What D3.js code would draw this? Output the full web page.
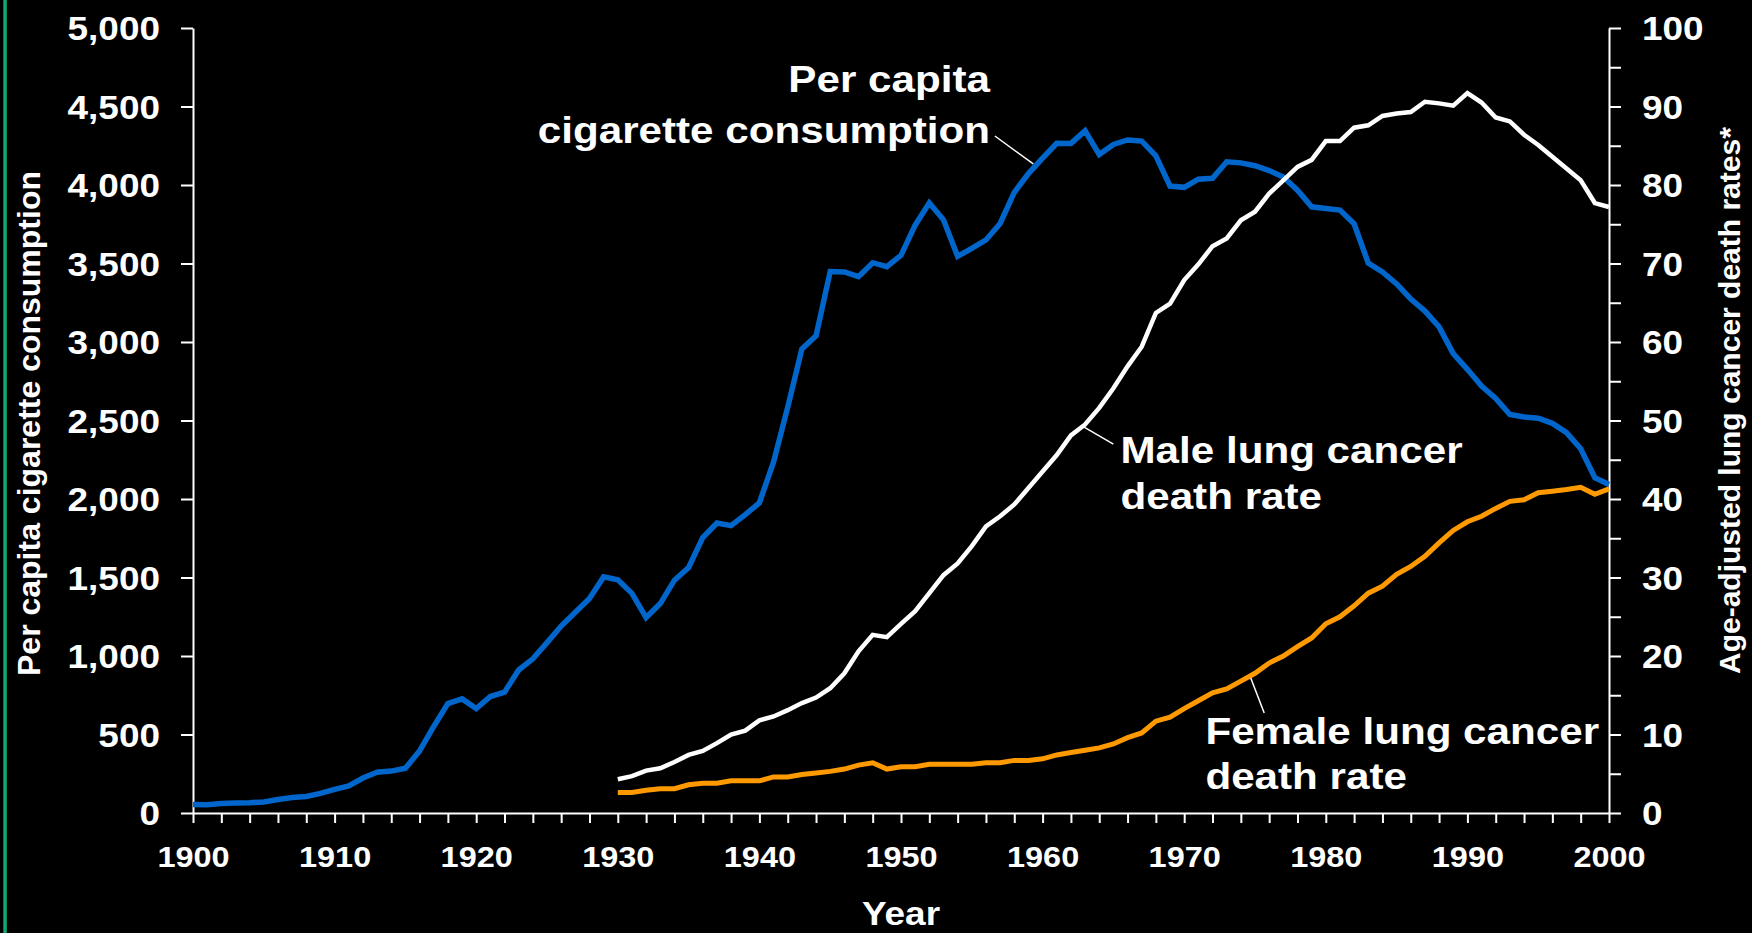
<!DOCTYPE html>
<html>
<head>
<meta charset="utf-8">
<script src="https://cdn.jsdelivr.net/npm/d3@7"></script>
<style>
	html, body { margin: 0; padding: 0; background: #000; }
	svg { display: block; }
	text { font-family: "Liberation Sans", Arial, sans-serif; font-weight: bold; fill: #fff; }
</style>
</head>
<body>
<div id="chart"></div>
<script>
// per capita cigarette consumption, 1900-2000
var cigaretteYears = d3.range(1900, 2001);
var cigarettes = [54, 53, 60, 64, 66, 70, 86, 99, 105, 125,
	151, 173, 223, 260, 267, 285, 395, 551, 697, 727,
	665, 742, 770, 911, 982, 1085, 1191, 1279, 1366, 1504,
	1485, 1399, 1245, 1334, 1483, 1564, 1754, 1847, 1830, 1900,
	1976, 2236, 2585, 2956, 3039, 3449, 3446, 3416, 3505, 3480,
	3552, 3744, 3886, 3778, 3546, 3597, 3650, 3755, 3953, 4073,
	4171, 4266, 4265, 4345, 4194, 4258, 4287, 4280, 4186, 3993,
	3985, 4037, 4043, 4148, 4141, 4123, 4092, 4051, 3967, 3861,
	3851, 3840, 3753, 3502, 3446, 3370, 3274, 3197, 3096, 2926,
	2826, 2720, 2641, 2538, 2522, 2515, 2482, 2423, 2320, 2136, 2092];

// age-adjusted lung cancer death rates, 1930-2000
var rateYears = d3.range(1930, 2001);
var maleRates = [4.3, 4.7, 5.4, 5.7, 6.5, 7.4, 7.9, 8.9, 10.0, 10.5,
	11.8, 12.3, 13.1, 14.0, 14.7, 15.9, 17.8, 20.6, 22.7, 22.4,
	24.1, 25.7, 28.0, 30.3, 31.8, 34.0, 36.5, 37.8, 39.3, 41.4,
	43.5, 45.6, 48.1, 49.5, 51.6, 54.1, 56.9, 59.4, 63.7, 64.9,
	67.9, 69.9, 72.2, 73.2, 75.5, 76.6, 78.9, 80.6, 82.3, 83.2,
	85.6, 85.6, 87.3, 87.6, 88.8, 89.1, 89.3, 90.6, 90.4, 90.1,
	91.7, 90.5, 88.6, 88.1, 86.4, 85.1, 83.6, 82.1, 80.6, 77.7, 77.2];
var femaleRates = [2.6, 2.6, 2.9, 3.1, 3.1, 3.6, 3.8, 3.8, 4.1, 4.1,
	4.1, 4.6, 4.6, 4.9, 5.1, 5.3, 5.6, 6.1, 6.4, 5.6,
	5.9, 5.9, 6.2, 6.2, 6.2, 6.2, 6.4, 6.4, 6.7, 6.7,
	6.9, 7.4, 7.7, 8.0, 8.3, 8.8, 9.6, 10.2, 11.7, 12.2,
	13.3, 14.3, 15.3, 15.8, 16.8, 17.8, 19.1, 20.0, 21.2, 22.3,
	24.1, 25.0, 26.4, 28.0, 28.9, 30.4, 31.4, 32.7, 34.4, 36.0,
	37.1, 37.8, 38.8, 39.7, 39.9, 40.8, 41.0, 41.2, 41.5, 40.6, 41.3];

var xTicks = d3.range(1900, 2001, 2);
var leftTicks = d3.range(0, 5001, 500);
var rightTicks = d3.range(0, 101, 5);

var width = 1752, height = 933;
var margin = { top: 28, right: 143, bottom: 120, left: 193 };
var stretch = 1.12;

var svg = d3.select('#chart')
	.append('svg')
	.attr('width', width)
	.attr('height', height)
	.style('background', '#000');

// green rule on the slide edge
svg.append('rect')
	.attr('x', 3.3)
	.attr('y', 0)
	.attr('width', 3.5)
	.attr('height', height)
	.attr('fill', '#10a870');

var x = d3.scaleLinear().domain([1900, 2000]).range([margin.left, width - margin.right]);
var yLeft = d3.scaleLinear().domain([0, 5000]).range([height - margin.bottom, margin.top]);
var yRight = d3.scaleLinear().domain([0, 100]).range([height - margin.bottom, margin.top]);

function stretchText(selection, sx) {
	selection.each(function() {
		var t = d3.select(this);
		var tx = +t.attr('x') || 0;
		t.attr('transform', 'translate(' + tx + ',0) scale(' + sx + ',1) translate(' + (-tx) + ',0)');
	});
}

function styleAxis(g, fontSize) {
	g.attr('color', '#fff')
		.attr('font-family', '"Liberation Sans", Arial, sans-serif')
		.attr('font-size', fontSize)
		.attr('font-weight', 'bold');
	g.selectAll('line, path').attr('stroke-width', 2);
}

// axes
var xAxis = svg.append('g')
	.attr('transform', 'translate(0,' + yLeft(0) + ')')
	.call(d3.axisBottom(x)
		.tickValues(xTicks)
		.tickSize(10)
		.tickSizeOuter(0)
		.tickFormat(function(d) { return d % 10 === 0 ? d : ''; }));
styleAxis(xAxis, 29);
xAxis.selectAll('text').attr('y', 54).attr('dy', 0);
stretchText(xAxis.selectAll('text'), stretch);

var leftAxis = svg.append('g')
	.attr('transform', 'translate(' + x(1900) + ',0)')
	.call(d3.axisLeft(yLeft)
		.tickValues(leftTicks)
		.tickSize(12)
		.tickSizeOuter(0)
		.tickPadding(21)
		.tickFormat(d3.format(',')));
styleAxis(leftAxis, 33);
leftAxis.selectAll('text').attr('dy', '0.36em');
stretchText(leftAxis.selectAll('text'), stretch);

var rightAxis = svg.append('g')
	.attr('transform', 'translate(' + x(2000) + ',0)')
	.call(d3.axisRight(yRight)
		.tickValues(rightTicks)
		.tickSize(12)
		.tickSizeOuter(0)
		.tickPadding(21)
		.tickFormat(function(d) { return d % 10 === 0 ? d : ''; }));
styleAxis(rightAxis, 33);
rightAxis.selectAll('text').attr('dy', '0.36em');
stretchText(rightAxis.selectAll('text'), stretch);

// axis titles
svg.append('text')
	.attr('transform', 'translate(39.6,676) rotate(-90)')
	.attr('font-size', 32)
	.text('Per capita cigarette consumption');

svg.append('text')
	.attr('transform', 'translate(1739.5,674) rotate(-90)')
	.attr('font-size', 30)
	.text('Age-adjusted lung cancer death rates*');

var yearTitle = svg.append('text')
	.attr('x', (x(1900) + x(2000)) / 2)
	.attr('y', 925)
	.attr('text-anchor', 'middle')
	.attr('font-size', 33)
	.text('Year');
stretchText(yearTitle, stretch);

// series
var series = [
	{ years: cigaretteYears, values: cigarettes, scale: yLeft, color: '#0066cc', width: 5.5 },
	{ years: rateYears, values: maleRates, scale: yRight, color: '#ffffff', width: 4.5 },
	{ years: rateYears, values: femaleRates, scale: yRight, color: '#ff9900', width: 5 }
];

series.forEach(function(s) {
	var line = d3.line()
		.x(function(d, i) { return x(s.years[i]); })
		.y(function(d) { return s.scale(d); });
	svg.append('path')
		.datum(s.values)
		.attr('fill', 'none')
		.attr('stroke', s.color)
		.attr('stroke-width', s.width)
		.attr('stroke-linejoin', 'miter')
		.attr('d', line);
});

// annotations: text anchor and leader line in data units
var annotations = [
	{ lines: ['Per capita', 'cigarette consumption'], scale: yLeft, year: 1956.28, baselines: [4592, 4267],
		anchor: 'end', leader: [[1956.63, 4312], [1959.34, 4134]] },
	{ lines: ['Male lung cancer', 'death rate'], scale: yRight, year: 1965.5, baselines: [44.57, 38.75],
		anchor: 'start', leader: [[1965.0, 47.0], [1962.9, 49.2]] },
	{ lines: ['Female lung cancer', 'death rate'], scale: yRight, year: 1971.5, baselines: [8.8, 3.07],
		anchor: 'start', leader: [[1975.65, 12.74], [1974.7, 17.2]] }
];

annotations.forEach(function(a) {
	svg.append('line')
		.attr('x1', x(a.leader[0][0]))
		.attr('y1', a.scale(a.leader[0][1]))
		.attr('x2', x(a.leader[1][0]))
		.attr('y2', a.scale(a.leader[1][1]))
		.attr('stroke', '#fff')
		.attr('stroke-width', 1.5);
	a.lines.forEach(function(txt, i) {
		var t = svg.append('text')
			.attr('x', x(a.year))
			.attr('y', a.scale(a.baselines[i]))
			.attr('text-anchor', a.anchor)
			.attr('font-size', 37)
			.text(txt);
		stretchText(t, 1.14);
	});
});
</script>
</body>
</html>
